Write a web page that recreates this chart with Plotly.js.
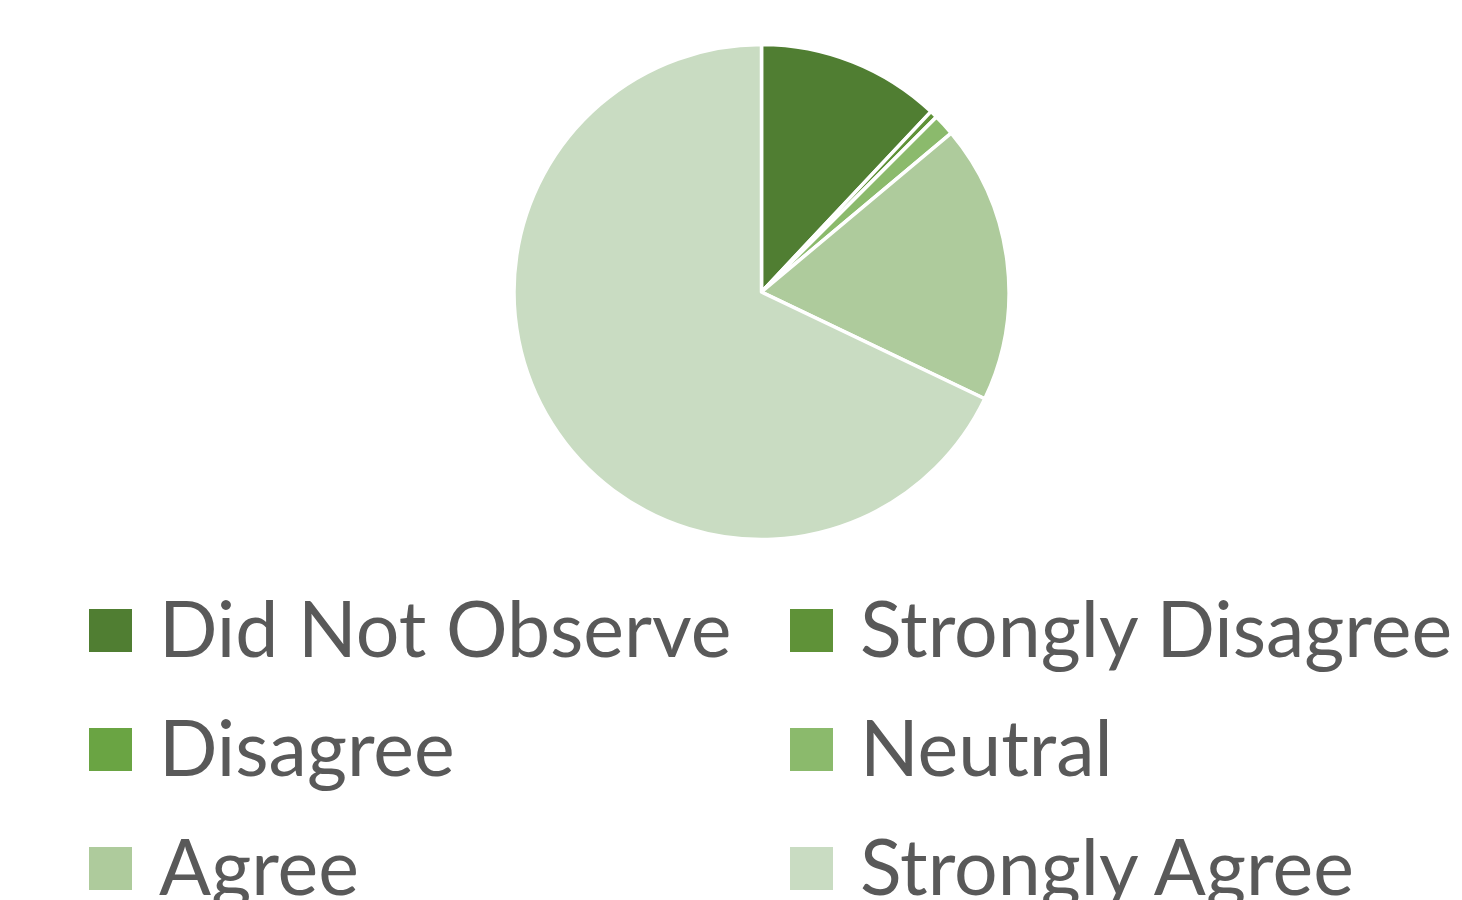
<!DOCTYPE html>
<html>
<head>
<meta charset="utf-8">
<script src="https://cdn.plot.ly/plotly-3.0.1.min.js"></script>
<style>
  html, body { margin: 0; padding: 0; background: #ffffff; }
  #chart { width: 1462px; height: 900px; }
</style>
</head>
<body>
<div id="chart"></div>
<script>
// ---- data ----
const labels = ["Did Not Observe", "Strongly Disagree", "Disagree", "Neutral", "Agree", "Strongly Agree"];
const values = [12.0, 0.5, 0, 1.4, 18.2, 67.9];
const colors = ["#507e32", "#5f9238", "#6aa443", "#8bba6c", "#aecb9c", "#c9dcc2"];

// ---- layout constants (pixels) ----
const W = 1462, H = 900;
const pieCx = 761.5, pieCy = 292, pieR = 247.5;
const legendColX = [89, 790];        // left edge of legend squares
const legendRowY = [630.5, 749.5, 868.5]; // centers of legend rows
const textShift = -4;                // text center relative to square center
const sq = 43;
const textGap = 68;                  // square left to text left

const px = x => x / W;
const py = y => 1 - y / H;

const shapes = [];
const annotations = [];
labels.forEach((lab, i) => {
  const col = i % 2, row = Math.floor(i / 2);
  const x0 = legendColX[col], yc = legendRowY[row];
  shapes.push({
    type: "rect", xref: "paper", yref: "paper",
    x0: px(x0), x1: px(x0 + sq), y0: py(yc + sq / 2), y1: py(yc - sq / 2),
    fillcolor: colors[i], line: { width: 0 }
  });
  annotations.push({
    xref: "paper", yref: "paper",
    x: px(x0 + textGap), y: py(yc + textShift), xanchor: "left", yanchor: "middle",
    text: lab, showarrow: false,
    font: { family: "Lato, 'Open Sans', sans-serif", size: 77, color: "#595959" }
  });
});

const trace = {
  type: "pie",
  labels: labels,
  values: values,
  sort: false,
  direction: "clockwise",
  rotation: 0,
  marker: { colors: colors, line: { color: "#ffffff", width: 3.5 } },
  textinfo: "none",
  hoverinfo: "label+percent",
  showlegend: false,
  domain: { x: [px(pieCx - pieR), px(pieCx + pieR)], y: [py(pieCy + pieR), py(pieCy - pieR)] }
};

const layout = {
  width: W, height: H,
  margin: { l: 0, r: 0, t: 0, b: 0 },
  paper_bgcolor: "#ffffff",
  plot_bgcolor: "#ffffff",
  showlegend: false,
  shapes: shapes,
  annotations: annotations
};

Plotly.newPlot("chart", [trace], layout, { displayModeBar: false, staticPlot: true });
</script>
</body>
</html>
